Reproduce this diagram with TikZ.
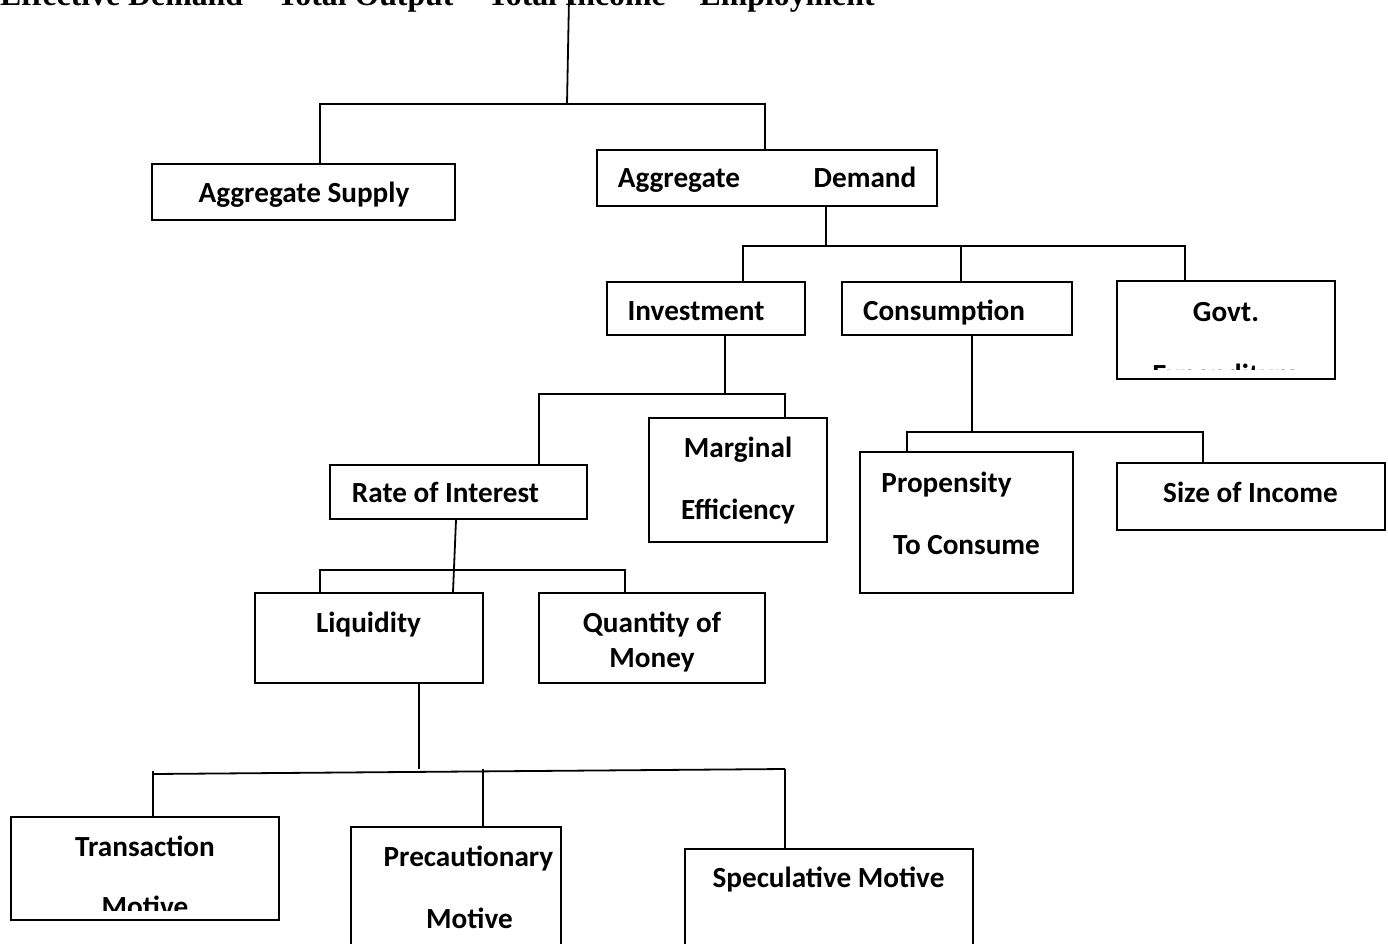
\documentclass[tikz,border=0pt]{standalone}
\usepackage{fontspec}
\setmainfont{Liberation Serif}
\newfontfamily\cbfont{Carlito}
\usetikzlibrary{fit}
\tikzset{
  box/.style={draw, line width=1.8pt, inner sep=0pt, rectangle},
  lbl/.style={anchor=base, inner sep=0pt, font=\cbfont\bfseries\fontsize{29.2}{35}\selectfont},
  conn/.style={line width=1.8pt},
}
\begin{document}
\begin{tikzpicture}[x=1pt,y=-1pt]
\useasboundingbox (0,0) rectangle (1388,944);
% title
\node[anchor=base west, inner sep=0pt, font=\bfseries\fontsize{31.8}{38}\selectfont] (title) at (0,6) {Effective Demand = Total Output = Total Income = Employment};
% boxes
\node[box, fit={(152,164)(455,220)}] (AS) {};
\node[box, fit={(597,150)(937,206)}] (AD) {};
\node[box, fit={(607,282)(805,335)}] (INV) {};
\node[box, fit={(842,282)(1072,335)}] (CON) {};
\node[box, fit={(1117,281)(1335,379)}] (GOV) {};
\node[box, fit={(649,418)(827,542)}] (MEC) {};
\node[box, fit={(330,465)(587,519)}] (ROI) {};
\node[box, fit={(860,452)(1073,593)}] (PTC) {};
\node[box, fit={(1117,463)(1385,530)}] (SOI) {};
\node[box, fit={(255,593)(483,683)}] (LIQ) {};
\node[box, fit={(539,593)(765,683)}] (QOM) {};
\node[box, fit={(11,817)(279,920)}] (TM) {};
\node[box, fit={(351,827)(561,960)}] (PM) {};
\node[box, fit={(685,849)(973,960)}] (SM) {};
% labels
\node[lbl] (tAS) at (304,202) {Aggregate Supply};
\node[lbl] (tAD1) at (679,187) {Aggregate};
\node[lbl] (tAD2) at (865,187) {Demand};
\node[lbl] (tINV) at (696,320) {Investment};
\node[lbl] (tCON) at (944,320) {Consumption};
\node[lbl] (tGOV) at (1226,321) {Govt.};
\begin{scope}
\clip (GOV.north west) rectangle (1335,369);
\node[lbl] (tGOV2) at (1226,384) {Expenditure};
\end{scope}
\node[lbl] (tMEC1) at (738,457) {Marginal};
\node[lbl] (tMEC2) at (738,519) {Efficiency};
\node[lbl] (tROI) at (445.5,502) {Rate of Interest};
\node[lbl] (tPTC1) at (946.5,492) {Propensity};
\node[lbl] (tPTC2) at (966.5,554) {To Consume};
\node[lbl] (tSOI) at (1250.5,502) {Size of Income};
\node[lbl] (tLIQ) at (368.5,632) {Liquidity};
\node[lbl] (tQOM1) at (652,632) {Quantity of};
\node[lbl] (tQOM2) at (652,667) {Money};
\node[lbl] (tTM1) at (145,856) {Transaction};
\begin{scope}
\clip (TM.north west) rectangle (279,910);
\node[lbl] (tTM2) at (145,916) {Motive};
\end{scope}
\node[lbl] (tPM1) at (468.5,866) {Precautionary};
\node[lbl] (tPM2) at (469.5,928) {Motive};
\node[lbl] (tSM) at (828.5,887) {Speculative Motive};
% junction coordinates
\coordinate (t0) at (569,-2);
\coordinate (h1M) at (567,104);
\coordinate (h1L) at (320,104);
\coordinate (h1R) at (765,104);
\coordinate (h2M) at (826,246);
\coordinate (h2L) at (743,246);
\coordinate (h2C) at (961,246);
\coordinate (h2R) at (1185,246);
\coordinate (h3M) at (725,394);
\coordinate (h3L) at (539,394);
\coordinate (h3R) at (785,394);
\coordinate (h4M) at (972,432);
\coordinate (h4L) at (907,432);
\coordinate (h4R) at (1203,432);
\coordinate (r1) at (456,0);
\coordinate (r2) at (453,0);
\coordinate (h5L) at (320,570);
\coordinate (h5R) at (625,570);
\coordinate (h6M) at (419,769);
\coordinate (h6L) at (153,774);
\coordinate (h6Lt) at (153,771);
\coordinate (h6R) at (785,769);
\coordinate (h6P) at (483,769);
% connectors
\draw[conn] (t0) -- (h1M);
\draw[conn] (h1L |- AS.north) -- (h1L) -- (h1R) -- (h1R |- AD.north);
\draw[conn] (h2M |- AD.south) -- (h2M);
\draw[conn] (h2L |- INV.north) -- (h2L) -- (h2R) -- (h2R |- GOV.north);
\draw[conn] (h2C) -- (h2C |- CON.north);
\draw[conn] (h3M |- INV.south) -- (h3M);
\draw[conn] (h3L |- ROI.north) -- (h3L) -- (h3R) -- (h3R |- MEC.north);
\draw[conn] (h4M |- CON.south) -- (h4M);
\draw[conn] (h4L |- PTC.north) -- (h4L) -- (h4R) -- (h4R |- SOI.north);
\draw[conn] (r1 |- ROI.south) -- (r2 |- LIQ.north);
\draw[conn] (h5L |- LIQ.north) -- (h5L) -- (h5R) -- (h5R |- QOM.north);
\draw[conn] (h6M |- LIQ.south) -- (h6M);
\draw[conn] (h6L) -- (h6R);
\draw[conn] (h6Lt) -- (h6Lt |- TM.north);
\draw[conn] (h6P) -- (h6P |- PM.north);
\draw[conn] (h6R) -- (h6R |- SM.north);
\end{tikzpicture}
\end{document}
